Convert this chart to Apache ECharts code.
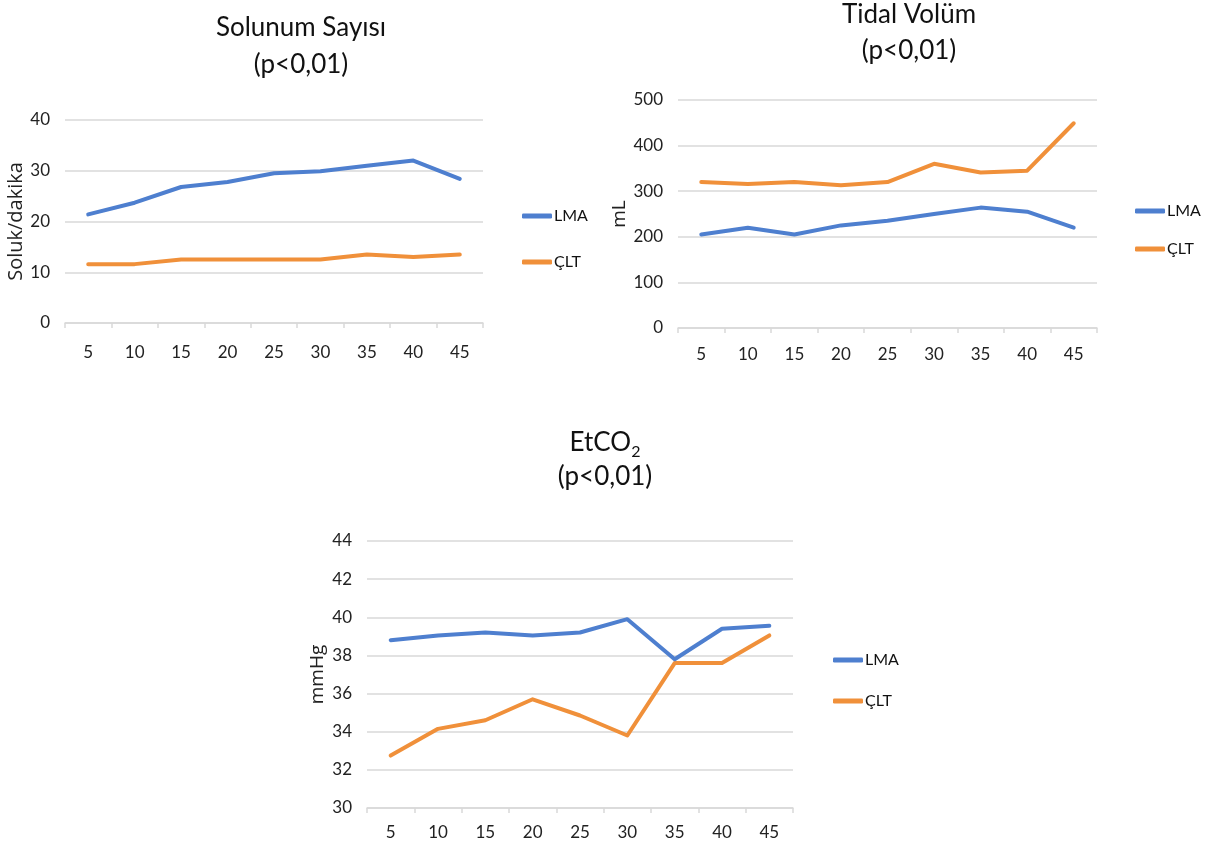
<!DOCTYPE html>
<html>
<head>
<meta charset="utf-8">
<script src="https://cdn.jsdelivr.net/npm/echarts@6/dist/echarts.min.js"></script>
<style>html,body{margin:0;padding:0;background:#fff}#c{width:1218px;height:849px}</style>
</head>
<body>
<div id="c"></div>
<script>
const categories = ['5','10','15','20','25','30','35','40','45'];
const seriesNames = ['LMA','ÇLT'];

const rrLMA = [21.4, 23.7, 26.8, 27.8, 29.5, 29.9, 31.0, 32.0, 28.4];
const rrCLT = [11.6, 11.6, 12.5, 12.5, 12.5, 12.5, 13.5, 13.0, 13.5];

const tvLMA = [205, 220, 205, 225, 235, 250, 264, 255, 220];
const tvCLT = [320, 316, 320, 313, 320, 360, 341, 345, 449];

const etLMA = [38.8, 39.05, 39.2, 39.05, 39.2, 39.9, 37.8, 39.4, 39.55];
const etCLT = [32.75, 34.15, 34.6, 35.7, 34.85, 33.8, 37.6, 37.6, 39.05];

const titles = ['Solunum Sayısı\n(p<0,01)', 'Tidal Volüm\n(p<0,01)', 'EtCO{sub|2}\n(p<0,01)'];
const yNames = ['Soluk/dakika', 'mL', 'mmHg'];

const BLUE = '#4E7FCF';
const ORANGE = '#F0903A';
const GRID = '#D9D9D9';
const NARROW = "'DejaVu Sans Condensed', Lato, sans-serif";
const LATO = "Lato, 'Open Sans', sans-serif";
const SANS = "'Open Sans', 'Noto Sans', sans-serif";

const grids = [
  {left: 65, top: 120, width: 418, height: 203},
  {left: 678, top: 100, width: 419, height: 228},
  {left: 367, top: 541, width: 426, height: 267}
];
const yCfg = [
  {min: 0, max: 40, interval: 10, nameGap: 38, nameSize: 20},
  {min: 0, max: 500, interval: 100, nameGap: 46, nameSize: 19},
  {min: 30, max: 44, interval: 2, nameGap: 40, nameSize: 19}
];
const xMargins = [21, 18, 16];
const titlePos = [
  {x: 296, top: 4, lh: 37},
  {x: 904, top: -8, lh: 36},
  {x: 600, top: 421, lh: 34}
];
const legendPos = [
  {left: 517, top: 203, gap: 30},
  {left: 1130, top: 198, gap: 22},
  {left: 828, top: 647, gap: 25}
];
const data = [[rrLMA, rrCLT], [tvLMA, tvCLT], [etLMA, etCLT]];

const option = {
  backgroundColor: '#fff',
  animation: false,
  title: titles.map((t, i) => ({
    text: t,
    left: titlePos[i].x,
    top: titlePos[i].top,
    textAlign: 'center',
    textStyle: {
      fontFamily: LATO, fontSize: 26, fontWeight: 'normal', color: '#111',
      lineHeight: titlePos[i].lh,
      rich: {sub: {fontFamily: LATO, fontSize: 16, verticalAlign: 'bottom', padding: [14, 0, 0, 0], color: '#111'}}
    }
  })),
  legend: legendPos.map((p, i) => ({
    data: seriesNames,
    orient: 'vertical',
    left: p.left, top: p.top,
    itemGap: p.gap,
    itemWidth: 30, itemHeight: 5,
    icon: 'roundRect',
    textStyle: {fontFamily: LATO, fontSize: 16, color: '#111', padding: [0,0,0,-3]},
    selectedMode: false
  })),
  grid: grids.map(g => Object.assign({containLabel: false}, g)),
  xAxis: grids.map((g, i) => ({
    type: 'category', gridIndex: i, data: categories, boundaryGap: true,
    axisLine: {show: true, lineStyle: {color: GRID, width: 1.5}},
    axisTick: {show: true, interval: 0, length: 5, lineStyle: {color: GRID, width: 1.5}},
    axisLabel: {fontFamily: LATO, fontSize: 17, color: '#222', margin: xMargins[i], interval: 0},
    splitLine: {show: false}
  })),
  yAxis: grids.map((g, i) => ({
    type: 'value', gridIndex: i,
    min: yCfg[i].min, max: yCfg[i].max, interval: yCfg[i].interval,
    name: yNames[i], nameLocation: 'middle', nameRotate: 90, nameGap: yCfg[i].nameGap,
    nameTextStyle: {fontFamily: SANS, fontSize: yCfg[i].nameSize, color: '#222'},
    axisLine: {show: false}, axisTick: {show: false},
    axisLabel: {fontFamily: LATO, fontSize: 17, color: '#222', margin: 15},
    splitLine: {show: true, lineStyle: {color: GRID, width: 1.5}}
  })),
  series: []
};
data.forEach((pair, i) => {
  pair.forEach((vals, k) => {
    option.series.push({
      name: seriesNames[k], type: 'line', xAxisIndex: i, yAxisIndex: i,
      data: vals, showSymbol: false, symbol: 'none',
      lineStyle: {width: 4, color: k === 0 ? BLUE : ORANGE, cap: 'round', join: 'round'},
      itemStyle: {color: k === 0 ? BLUE : ORANGE},
      z: k === 0 ? 3 : 2
    });
  });
});
echarts.init(document.getElementById('c')).setOption(option);
</script>
</body>
</html>
